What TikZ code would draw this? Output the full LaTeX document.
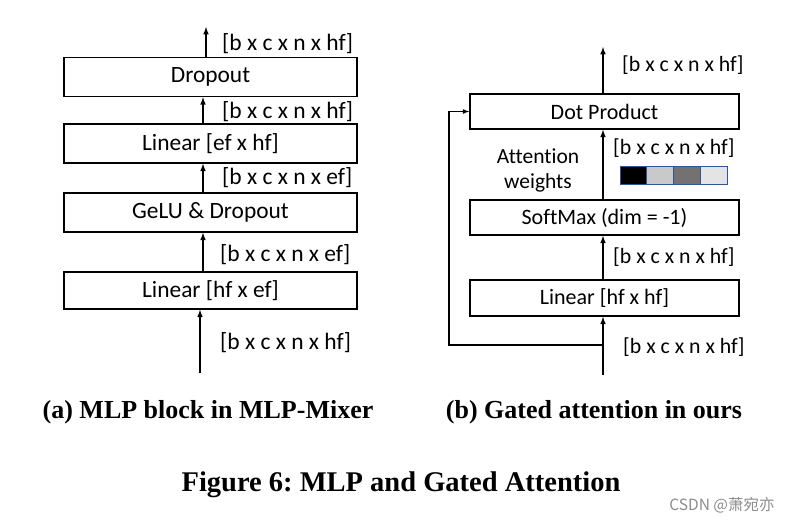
\documentclass[tikz,border=0pt]{standalone}
\usepackage{fontspec}
\setmainfont{Liberation Serif}
\newfontfamily\boxfont{Carlito}[Ligatures=NoCommon]
\newfontfamily\cjkfont{Noto Sans CJK SC}
\usetikzlibrary{positioning}
\definecolor{wgtA}{HTML}{C9C9C9}
\definecolor{wgtB}{HTML}{767171}
\definecolor{wgtC}{HTML}{E4E4E4}
\definecolor{wgtedge}{HTML}{2F5597}
\frenchspacing
\begin{document}
\begin{tikzpicture}
  [x=1pt, y=-1pt, >=latex,
  couche/.style={
    draw=black,
    fill=white,
    rectangle,
    line width=1.5pt,
    inner sep=0pt},
  gauche/.style={couche, minimum width=293pt,
    font=\boxfont\fontsize{23.4}{28}\selectfont},
  droite/.style={couche, minimum width=269pt,
    font=\boxfont\fontsize{22}{26}\selectfont},
  forme/.style={
    anchor=west,
    inner sep=0pt,
    font=\boxfont\fontsize{23.5}{28}\selectfont},
  formeB/.style={forme,
    font=\boxfont\fontsize{21.8}{26}\selectfont},
  fleche/.style={->, line width=1.5pt},
  legende/.style={font=\bfseries\fontsize{26}{30}\selectfont}]

  \useasboundingbox (0,0) rectangle (790,522);

  % (a) MLP block
  \node [gauche, minimum height=39pt] at (210.5,77) (dropout) {Dropout};
  \node [gauche, minimum height=39pt] at (210.5,143.5) (linef) {Linear [ef x hf]};
  \node [gauche, minimum height=39pt] at (210.5,212.5) (gelu) {GeLU \& Dropout};
  \node [gauche, minimum height=37pt] at (210.5,290.5) (linhf) {Linear [hf x ef]};

  \coordinate (entreeA) at (200,373);
  \coordinate (sortieA) at (206,27);

  \draw [fleche] (entreeA) -- (entreeA |- linhf.south);
  \draw [fleche] ([xshift=-7.5]linhf.north) -- ([xshift=-7.5]gelu.south);
  \draw [fleche] ([xshift=-7.5]gelu.north) -- ([xshift=-7.5]linef.south);
  \draw [fleche] ([xshift=-7.5]linef.north) -- ([xshift=-7.5]dropout.south);
  \draw [fleche] (sortieA |- dropout.north) -- (sortieA);

  \node [forme] at (220,343) (dimA1) {[b x c x n x hf]};
  \node [forme] at (220,255) (dimA2) {[b x c x n x ef]};
  \node [forme] at (222,178) (dimA3) {[b x c x n x ef]};
  \node [forme] at (222,112) (dimA4) {[b x c x n x hf]};
  \node [forme] at (222,44) (dimA5) {[b x c x n x hf]};

  % (b) Gated attention
  \node [droite, minimum height=35pt] at (604.5,111.5) (dot) {Dot Product};
  \node [droite, minimum height=35pt] at (604.5,217.5) (softmax) {SoftMax (dim = -1)};
  \node [droite, minimum height=36pt] at (604.5,298) (linhh) {Linear [hf x hf]};

  \coordinate (entreeB) at (603,375);
  \coordinate (sortieB) at (603,47);
  \coordinate (branche) at (603,345);
  \coordinate (coin) at (449,345);

  \draw [fleche] (entreeB) -- (entreeB |- linhh.south);
  \draw [fleche] (entreeB |- linhh.north) -- (entreeB |- softmax.south);
  \draw [fleche] (entreeB |- softmax.north) -- (entreeB |- dot.south);
  \draw [fleche] (sortieB |- dot.north) -- (sortieB);
  \draw [->, line width=1.2pt] (branche) -- (coin) |- (dot.west);

  \node [formeB] at (623,347) (dimB1) {[b x c x n x hf]};
  \node [formeB] at (613,257) (dimB2) {[b x c x n x hf]};
  \node [formeB] at (613,148) (dimB3) {[b x c x n x hf]};
  \node [formeB] at (622,65) (dimB4) {[b x c x n x hf]};

  \node [align=center, inner sep=0pt, font=\boxfont\fontsize{21.5}{25}\selectfont]
    at (538,170) (poids) {Attention\\weights};

  \foreach \c [count=\i] in {black, wgtA, wgtB, wgtC}
    \draw [draw=wgtedge, line width=0.8pt, fill=\c]
      (620+26.75*\i-26.75,166) rectangle (620+26.75*\i,184);

  % legendes
  \node [legende] at (208,412) (capA) {(a) MLP block in MLP-Mixer};
  \node [legende] at (594,412) (capB) {(b) Gated attention in ours};
  \node [font=\bfseries\fontsize{28.5}{33}\selectfont] at (401,485) (figcap)
    {Figure 6: MLP and Gated Attention};
  \node [text=black!45, font=\cjkfont\fontsize{15.5}{17}\selectfont] at (722,505)
    (marque) {CSDN @萧宛亦};
\end{tikzpicture}
\end{document}
